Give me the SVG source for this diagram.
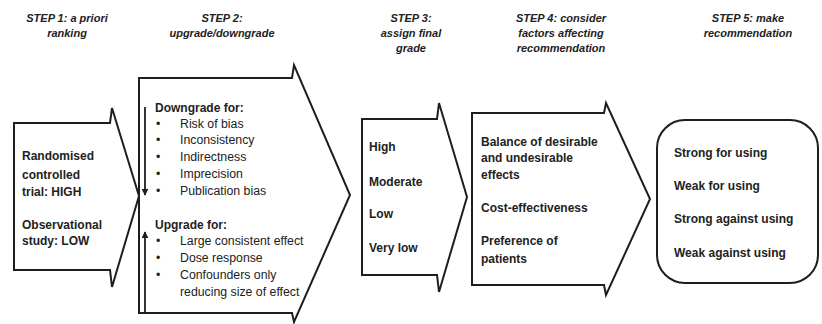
<svg xmlns="http://www.w3.org/2000/svg" width="822" height="324" viewBox="0 0 822 324">
<style>
.shape{fill:#fff;stroke:#1e1e1e;stroke-width:2;stroke-linejoin:miter}
.hd{font-family:"Liberation Sans",Arial,sans-serif;font-size:11px;font-weight:bold;font-style:italic;fill:#222;text-anchor:middle}
.b{font-family:"Liberation Sans",Arial,sans-serif;font-size:12px;font-weight:bold;fill:#222}
.r{font-family:"Liberation Sans",Arial,sans-serif;font-size:12.3px;fill:#222}
.ln{stroke:#1e1e1e;stroke-width:1.8;fill:none}
</style>
<defs>
<marker id="ah" viewBox="0 0 10 10" refX="9" refY="5" markerWidth="7" markerHeight="7" orient="auto" markerUnits="userSpaceOnUse">
<path d="M0,0 L10,5 L0,10 Z" fill="#1e1e1e"/>
</marker>
</defs>
<rect width="822" height="324" fill="#fff"/>
<g id="headers">
<text class="hd" x="67" y="22">STEP 1: a priori</text>
<text class="hd" x="67" y="37">ranking</text>
<text class="hd" x="222" y="22">STEP 2:</text>
<text class="hd" x="222" y="37">upgrade/downgrade</text>
<text class="hd" x="411" y="22">STEP 3:</text>
<text class="hd" x="411" y="37">assign final</text>
<text class="hd" x="411" y="52">grade</text>
<text class="hd" x="561" y="22">STEP 4: consider</text>
<text class="hd" x="561" y="37">factors affecting</text>
<text class="hd" x="561" y="52">recommendation</text>
<text class="hd" x="748" y="22">STEP 5: make</text>
<text class="hd" x="748" y="37">recommendation</text>
</g>
<g id="step1">
<path class="shape" d="M14,123 H110 L112,108 L139,196 L112,287 L110,270 H14 Z"/>
<text class="b" x="22" y="160">Randomised</text>
<text class="b" x="22" y="179">controlled</text>
<text class="b" x="22" y="196">trial: HIGH</text>
<text class="b" x="22" y="229">Observational</text>
<text class="b" x="22" y="245">study: LOW</text>
</g>
<g id="step2">
<path class="shape" d="M139,78 H292 L294,65 L350,195 L294,322 L292,313 H139 Z"/>
<text class="b" x="155" y="112">Downgrade for:</text>
<g class="r">
<text x="156" y="128">•</text><text x="180" y="128">Risk of bias</text>
<text x="156" y="144">•</text><text x="180" y="144">Inconsistency</text>
<text x="156" y="161">•</text><text x="180" y="161">Indirectness</text>
<text x="156" y="178">•</text><text x="180" y="178">Imprecision</text>
<text x="156" y="195">•</text><text x="180" y="195">Publication bias</text>
</g>
<text class="b" x="155" y="229">Upgrade for:</text>
<g class="r">
<text x="156" y="245">•</text><text x="180" y="245">Large consistent effect</text>
<text x="156" y="262">•</text><text x="180" y="262">Dose response</text>
<text x="156" y="279">•</text><text x="180" y="279">Confounders only</text>
<text x="180" y="296">reducing size of effect</text>
</g>
</g>
<g id="step3">
<path class="shape" d="M362,119 H437 L439,103 L467,197 L439,292 L437,275 H362 Z"/>
<text class="b" x="369" y="151">High</text>
<text class="b" x="369" y="186">Moderate</text>
<text class="b" x="369" y="218">Low</text>
<text class="b" x="369" y="252">Very low</text>
</g>
<g id="step4">
<path class="shape" d="M472,113 H604 L606,103 L650,199 L606,295 L604,285 H472 Z"/>
<text class="b" x="481" y="146">Balance of desirable</text>
<text class="b" x="481" y="162">and undesirable</text>
<text class="b" x="481" y="179">effects</text>
<text class="b" x="481" y="212">Cost-effectiveness</text>
<text class="b" x="481" y="245">Preference of</text>
<text class="b" x="481" y="263">patients</text>
</g>
<g id="step5">
<rect class="shape" x="657" y="120" width="161" height="163" rx="28" ry="28"/>
<text class="b" x="674" y="157">Strong for using</text>
<text class="b" x="674" y="190">Weak for using</text>
<text class="b" x="674" y="223">Strong against using</text>
<text class="b" x="674" y="257">Weak against using</text>
</g>
<g id="connectors">
<line class="ln" x1="145" y1="107" x2="145" y2="195" marker-end="url(#ah)"/>
<line class="ln" x1="145" y1="313" x2="145" y2="232" marker-end="url(#ah)"/>
</g>
</svg>
